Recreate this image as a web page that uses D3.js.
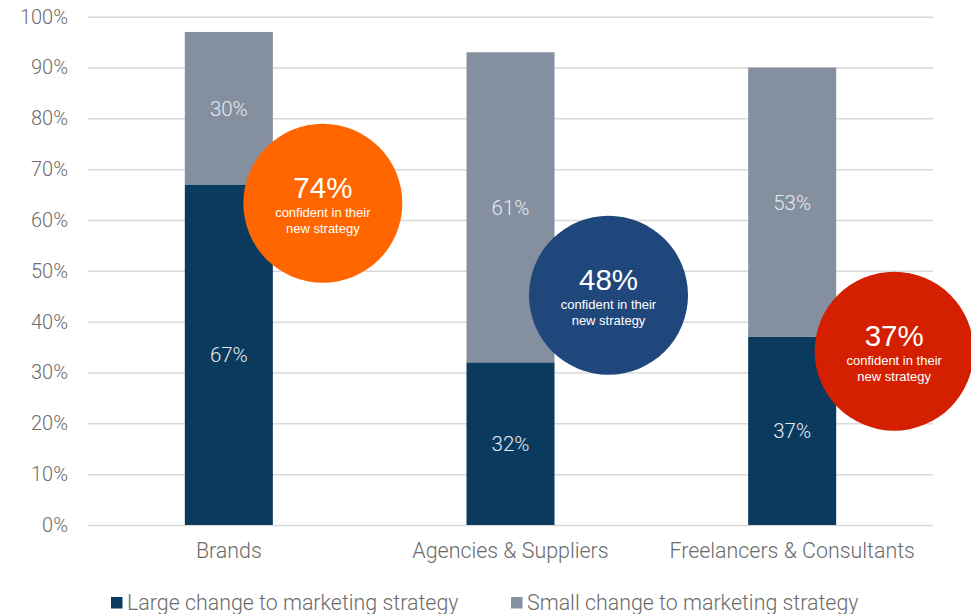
<!DOCTYPE html>
<html>
<head>
<meta charset="utf-8">
<script src="https://cdn.jsdelivr.net/npm/d3@7"></script>
<style>
  html, body { margin: 0; padding: 0; background: #ffffff; }
  svg { display: block; }
</style>
</head>
<body>
<svg id="chart" width="971" height="614"></svg>
<script>
// Survey results: share of respondents reporting a large or small change to their marketing strategy
const categories = ["Brands", "Agencies & Suppliers", "Freelancers & Consultants"];
const largeChange = [67, 32, 37];
const smallChange = [30, 61, 53];
const confident = [74, 48, 37];
const yTicks = [0, 10, 20, 30, 40, 50, 60, 70, 80, 90, 100];
const seriesNames = ["Large change to marketing strategy", "Small change to marketing strategy"];

const W = 971, H = 614;
const plot = { left: 88, right: 933, top: 16.7, bottom: 525 };
const colors = { large: "#0a3a5e", small: "#848f9f", grid: "#d9d9d9", text: "#6b6b6b" };
const badgeColors = ["#ff6600", "#1f477b", "#d41f00"];

const svg = d3.select("#chart");

const x = d3.scaleBand().domain(categories).range([plot.left, plot.right]).padding(0);
const y = d3.scaleLinear().domain([0, 100]).range([plot.bottom, plot.top]);
const barW = x.bandwidth() * 0.3125;

// gridlines and y-axis labels
const yAxis = d3.axisLeft(y).tickValues(yTicks).tickFormat(d => d + "%")
  .tickSize(-(plot.right - plot.left)).tickPadding(20);
const gy = svg.append("g").attr("transform", `translate(${plot.left},0)`).call(yAxis);
gy.select(".domain").remove();
gy.selectAll(".tick line").attr("stroke", colors.grid).attr("stroke-width", 1.5);
gy.selectAll(".tick text")
  .attr("fill", colors.text)
  .style("font-family", "Roboto, sans-serif")
  .style("font-weight", 300)
  .style("font-size", "20px");

// category axis labels
const xAxis = d3.axisBottom(x).tickSize(0).tickPadding(18);
const gx = svg.append("g").attr("transform", `translate(0,${plot.bottom})`).call(xAxis);
gx.select(".domain").remove();
gx.selectAll(".tick text")
  .attr("fill", colors.text)
  .style("font-family", "Roboto, sans-serif")
  .style("font-weight", 300)
  .style("font-size", "21.4px");

// stacked bars
const rows = categories.map((c, i) => ({ cat: c, large: largeChange[i], small: smallChange[i] }));
const stacked = d3.stack().keys(["large", "small"])(rows);
const fill = { large: colors.large, small: colors.small };

const layers = svg.append("g").selectAll("g").data(stacked).join("g")
  .attr("fill", d => fill[d.key]);
layers.selectAll("rect").data(d => d).join("rect")
  .attr("x", d => x(d.data.cat) + x.bandwidth() / 2 - barW / 2)
  .attr("width", barW)
  .attr("y", d => y(d[1]))
  .attr("height", d => y(d[0]) - y(d[1]));

// segment value labels
stacked.forEach(layer => {
  svg.append("g").selectAll("text").data(layer).join("text")
    .attr("x", d => x(d.data.cat) + x.bandwidth() / 2)
    .attr("y", d => (y(d[0]) + y(d[1])) / 2)
    .attr("dy", "0.36em")
    .attr("text-anchor", "middle")
    .attr("fill", "#e6e9ee")
    .style("font-family", "Roboto, sans-serif")
    .style("font-weight", 300)
    .style("font-size", "20.5px")
    .text(d => (d[1] - d[0]) + "%");
});

// confidence badges beside each bar
const badgeOffsetX = [94, 98, 102];
const badgeLevel = [63.3, 45.2, 34.2];
const badgeR = 79.5;
const badges = svg.append("g").selectAll("g").data(categories).join("g")
  .attr("transform", (c, i) =>
    `translate(${x(c) + x.bandwidth() / 2 + badgeOffsetX[i]},${y(badgeLevel[i])})`);
badges.append("circle")
  .attr("r", badgeR)
  .attr("fill", (c, i) => badgeColors[i]);
const badgeFont = "'Liberation Sans', Arial, Helvetica, sans-serif";
badges.append("text")
  .attr("text-anchor", "middle").attr("y", -5)
  .attr("fill", "#ffffff")
  .style("font-family", badgeFont).style("font-size", "29.5px")
  .text((c, i) => confident[i] + "%");
badges.append("text")
  .attr("text-anchor", "middle").attr("y", 14)
  .attr("fill", "#ffffff")
  .style("font-family", badgeFont).style("font-size", "13px")
  .text("confident in their");
badges.append("text")
  .attr("text-anchor", "middle").attr("y", 30)
  .attr("fill", "#ffffff")
  .style("font-family", badgeFont).style("font-size", "13px")
  .text("new strategy");

// legend
const legendX = [111, 511];
const legend = svg.append("g").selectAll("g").data(seriesNames).join("g")
  .attr("transform", (d, i) => `translate(${legendX[i]},597)`);
legend.append("rect")
  .attr("width", 11.5).attr("height", 11.5)
  .attr("fill", (d, i) => i === 0 ? colors.large : colors.small);
legend.append("text")
  .attr("x", 16).attr("y", 13)
  .attr("fill", colors.text)
  .style("font-family", "Roboto, sans-serif")
  .style("font-weight", 300)
  .style("font-size", "21.4px")
  .text(d => d);
</script>
</body>
</html>
